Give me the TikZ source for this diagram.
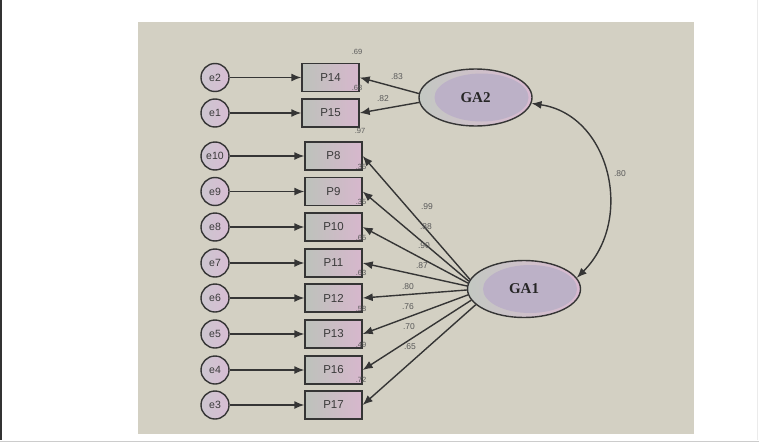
\documentclass[tikz,border=0pt]{standalone}
\usepackage{fontspec}
\setmainfont{Liberation Serif}
\setsansfont{Liberation Sans}
\usetikzlibrary{arrows.meta,shapes.geometric}
\definecolor{panel}{HTML}{D3D0C3}
\definecolor{edge}{HTML}{353535}
\definecolor{txt}{HTML}{3A3A3A}
\definecolor{lab}{HTML}{5A5A5A}
\definecolor{boxL}{HTML}{BDC2BB}
\definecolor{boxR}{HTML}{D7B7CD}
\definecolor{errL}{HTML}{CCC6CF}
\definecolor{errR}{HTML}{D8BDD4}
\definecolor{latL}{HTML}{C3C8C2}
\definecolor{latR}{HTML}{D9B9D1}
\definecolor{latIn}{HTML}{BCB1C7}
\begin{document}
\begin{tikzpicture}[x=1pt,y=-1pt,
  obsbox/.style={rectangle,draw=edge,line width=1.4pt,left color=boxL,right color=boxR,
    minimum width=57pt,minimum height=28pt,inner sep=0pt,font=\sffamily\fontsize{11.5}{12}\selectfont,text=txt},
  errnode/.style={circle,draw=edge,line width=1.4pt,left color=errL,right color=errR,
    minimum size=28pt,inner sep=0pt,font=\sffamily\fontsize{10.5}{11}\selectfont,text=txt},
  latnode/.style={ellipse,draw=edge,line width=1.4pt,left color=latL,right color=latR,
    minimum width=113pt,minimum height=57pt,inner sep=0pt,font=\bfseries\fontsize{15}{16}\selectfont,text=black!85,
    path picture={\fill[latIn] ([xshift=6pt]path picture bounding box.center) ellipse (47pt and 24pt);}},
  arr/.style={-{Latex[length=10pt,width=8pt]},line width=1.4pt,draw=edge},
  darr/.style={{Latex[length=10pt,width=8pt]}-{Latex[length=10pt,width=8pt]},line width=1.4pt,draw=edge},
  ldlab/.style={font=\sffamily\fontsize{8.5}{9}\selectfont,text=lab,inner sep=0pt},
  rsq/.style={font=\sffamily\fontsize{7.5}{8}\selectfont,text=lab,inner sep=0pt}
]
\useasboundingbox (0,0) rectangle (759,444);
\fill[white] (0,0) rectangle (759,444);
\fill[black!80] (0,0) rectangle (1.5,440);
\draw[black!20,line width=1pt] (0,441.5) -- (759,441.5);
\draw[black!8,line width=1pt] (757.5,0) -- (757.5,440);
\fill[panel] (138,22) rectangle (694,434);

% error terms
\node[errnode] (e2) at (215,77.5) {e2};
\node[errnode] (e1) at (215,113) {e1};
\node[errnode] (e10) at (215,156) {e10};
\node[errnode] (e9) at (215,191.5) {e9};
\node[errnode] (e8) at (215,227) {e8};
\node[errnode] (e7) at (215,263) {e7};
\node[errnode] (e6) at (215,298) {e6};
\node[errnode] (e5) at (215,334) {e5};
\node[errnode] (e4) at (215,370) {e4};
\node[errnode] (e3) at (215,405) {e3};

% observed
\node[obsbox] (P14) at (330.5,77.5) {P14};
\node[obsbox] (P15) at (330.5,113) {P15};
\node[obsbox] (P8) at (333.5,156) {P8};
\node[obsbox] (P9) at (333.5,191.5) {P9};
\node[obsbox] (P10) at (333.5,227) {P10};
\node[obsbox] (P11) at (333.5,263) {P11};
\node[obsbox] (P12) at (333.5,298) {P12};
\node[obsbox] (P13) at (333.5,334) {P13};
\node[obsbox] (P16) at (333.5,370) {P16};
\node[obsbox] (P17) at (333.5,405) {P17};

% latent
\node[latnode] (GA2) at (475.5,97.5) {GA2};
\node[latnode] (GA1) at (524,289) {GA1};

% error arrows
\foreach \e/\p in {e2/P14,e1/P15,e10/P8,e9/P9,e8/P10,e7/P11,e6/P12,e5/P13,e4/P16,e3/P17}
  \draw[arr] (\e) -- (\p);

% loadings
\draw[arr] (GA2.176) -- (P14.east);
\draw[arr] (GA2.185) -- (P15.east);
\draw[arr] (GA1.170) -- (P8.east);
\draw[arr] (GA1.172) -- (P9.east);
\draw[arr] (GA1.174) -- (P10.east);
\draw[arr] (GA1.177) -- (P11.east);
\draw[arr] (GA1.181) -- (P12.east);
\draw[arr] (GA1.186) -- (P13.east);
\draw[arr] (GA1.192) -- (P16.east);
\draw[arr] (GA1.198) -- (P17.east);

% covariance
\draw[darr] (GA2.-6) .. controls (610,115) and (635,220) .. (GA1.12);

% loading labels
\node[ldlab] (l14) at (397,77) {.83};
\node[ldlab] (l15) at (383,99) {.82};
\node[ldlab] (l8) at (427,207) {.99};
\node[ldlab] (l9) at (426,227) {.88};
\node[ldlab] (l10) at (424,246) {.90};
\node[ldlab] (l11) at (422,266) {.87};
\node[ldlab] (l12) at (408,287) {.80};
\node[ldlab] (l13) at (408,307) {.76};
\node[ldlab] (l16) at (409,327) {.70};
\node[ldlab] (l17) at (410,347) {.65};
\node[ldlab] (lc) at (620,174) {.80};

% squared multiple correlations
\node[rsq] (r14) at (357,52) {.69};
\node[rsq] (r15) at (357,88) {.68};
\node[rsq] (r8) at (360,131) {.97};
\node[rsq] (r9) at (361,167) {.35};
\node[rsq] (r10) at (361,202) {.35};
\node[rsq] (r11) at (361,238) {.65};
\node[rsq] (r12) at (361,273) {.63};
\node[rsq] (r13) at (361,309) {.58};
\node[rsq] (r16) at (361,345) {.49};
\node[rsq] (r17) at (361,380) {.72};
\end{tikzpicture}
\end{document}
